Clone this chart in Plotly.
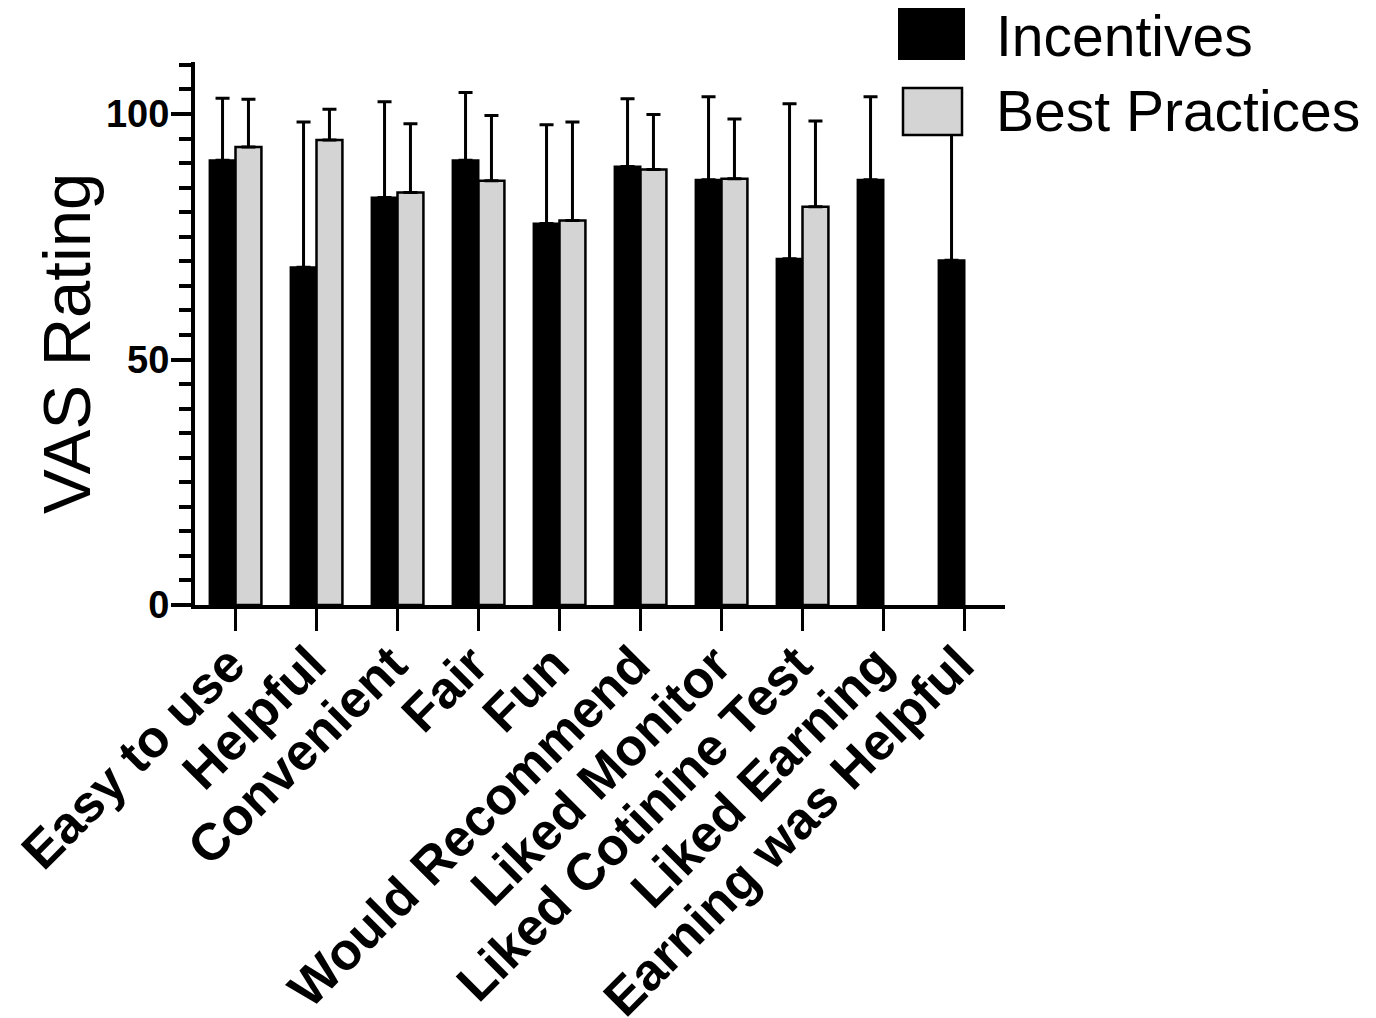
import plotly.graph_objects as go

categories = ["Easy to use", "Helpful", "Convenient", "Fair", "Fun",
              "Would Recommend", "Liked Monitor", "Liked Cotinine Test",
              "Liked Earning", "Earning was Helpful"]
incentives_mean = [90.6, 68.8, 83.0, 90.6, 77.7, 89.3, 86.6, 70.5, 86.6, 70.2]
incentives_sd = [12.6, 29.6, 19.5, 13.8, 20.1, 13.8, 16.9, 31.6, 16.9, 32.8]
best_mean = [93.3, 94.7, 84.0, 86.4, 78.3, 88.7, 86.8, 81.1, None, None]
best_sd = [9.7, 6.3, 14.0, 13.3, 20.1, 11.2, 12.2, 17.5, None, None]
y_ticks = [0, 50, 100]

FONT = "Liberation Sans, Arial, sans-serif"

# page offset (default body margin) compensation
OFF = 8
W, H = 1376 - OFF, 1018 - OFF
# plot area in figure pixels
L, R, T, B = 195 - OFF, 1005 - OFF, 62 - OFF, 605 - OFF


def px(x):
    """page x pixel -> paper fraction"""
    return (x - OFF - L) / (R - L)


def py(y):
    """page y pixel -> paper fraction"""
    return (B - (y - OFF)) / (B - T)


fig = go.Figure()
fig.add_trace(go.Bar(
    x=categories, y=incentives_mean, name="Incentives",
    marker=dict(color="black", line=dict(color="black", width=2)),
    error_y=dict(type="data", symmetric=False, array=incentives_sd,
                 arrayminus=[0] * len(incentives_sd),
                 color="black", thickness=3, width=7),
    showlegend=False,
))
fig.add_trace(go.Bar(
    x=categories, y=best_mean, name="Best Practices",
    marker=dict(color="#d4d4d4", line=dict(color="black", width=2.5)),
    error_y=dict(type="data", symmetric=False,
                 array=[v if v is not None else 0 for v in best_sd],
                 arrayminus=[0] * len(best_sd),
                 color="black", thickness=3, width=7),
    showlegend=False,
))

fig.update_layout(
    width=W, height=H,
    margin=dict(l=L, r=W - R, t=T, b=H - B, autoexpand=False),
    paper_bgcolor="white", plot_bgcolor="white",
    barmode="group", bargap=0.36, bargroupgap=0,
    font=dict(family=FONT, color="black"),
)
fig.update_xaxes(
    type="category", range=[-0.5, 9.5],
    showline=True, linecolor="black", linewidth=4,
    ticks="outside", ticklen=22, tickwidth=3, tickcolor="black",
    tickangle=-45, tickfont=dict(family=FONT, size=52, weight="bold"),
    ticklabelstandoff=-18, ticklabelshift=-6,
    showgrid=False, automargin=False,
)
fig.update_yaxes(
    range=[0, 110.6], tickvals=y_ticks,
    showline=True, linecolor="black", linewidth=4,
    ticks="outside", ticklen=20, tickwidth=4, tickcolor="black",
    minor=dict(dtick=5, ticks="outside", ticklen=12, tickwidth=4,
               tickcolor="black", showgrid=False),
    tickfont=dict(family=FONT, size=38, weight="bold"),
    ticklabelstandoff=-6,
    showgrid=False, zeroline=False, automargin=False,
)

# y axis title
fig.add_annotation(xref="paper", yref="paper", x=px(66), y=py(344),
                   text="VAS Rating", showarrow=False, textangle=-90,
                   xanchor="center", yanchor="middle",
                   font=dict(family=FONT, size=67, color="black"))

# legend drawn manually to match large swatches
fig.add_shape(type="rect", xref="paper", yref="paper",
              x0=px(899), x1=px(964), y0=py(59), y1=py(2),
              fillcolor="black", line=dict(color="black", width=2))
fig.add_shape(type="rect", xref="paper", yref="paper",
              x0=px(903), x1=px(962), y0=py(135), y1=py(88),
              fillcolor="#d4d4d4", line=dict(color="black", width=2.5))
fig.add_annotation(xref="paper", yref="paper", x=px(994), y=py(36),
                   text="Incentives", showarrow=False,
                   xanchor="left", yanchor="middle",
                   font=dict(family=FONT, size=57, color="black"))
fig.add_annotation(xref="paper", yref="paper", x=px(994), y=py(111),
                   text="Best Practices", showarrow=False,
                   xanchor="left", yanchor="middle",
                   font=dict(family=FONT, size=57, color="black"))

fig.write_html("out.html")
